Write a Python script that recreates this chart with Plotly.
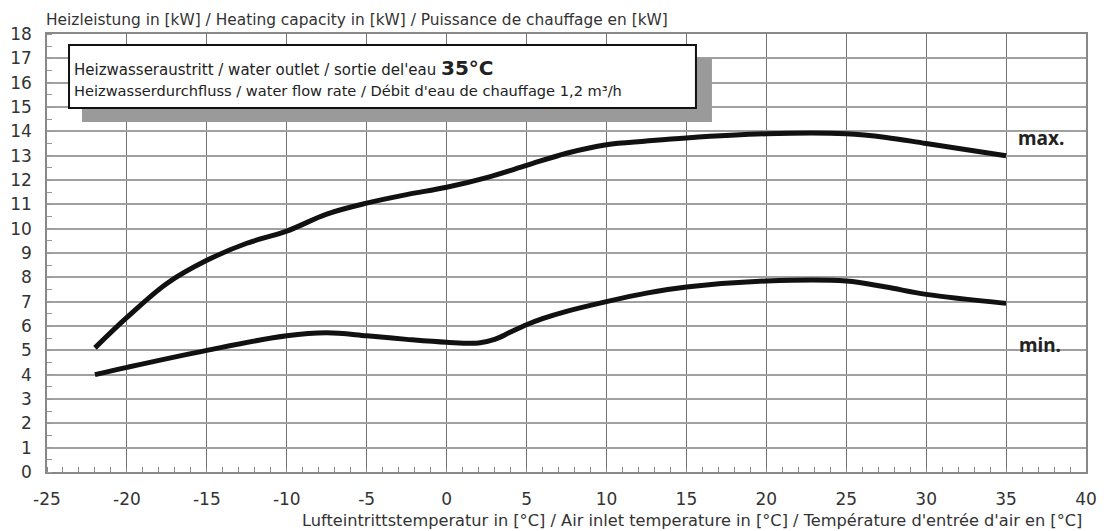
import plotly.graph_objects as go

# Data
max_x = [-22, -20, -17.5, -15, -12.5, -10, -7.5, -5, -2.5, 0, 2.5, 5, 7.5, 10, 12.5, 15, 20, 25, 27.5, 30, 35]
max_y = [5.1, 6.35, 7.75, 8.7, 9.4, 9.9, 10.6, 11.05, 11.4, 11.7, 12.1, 12.6, 13.1, 13.45, 13.6, 13.73, 13.9, 13.9, 13.75, 13.5, 13.0]

min_x = [-22, -20, -15, -10, -7.5, -5, -2.5, 0, 2, 3, 4, 5, 6, 7.5, 10, 12.5, 15, 20, 25, 27.5, 30, 35]
min_y = [4.0, 4.3, 5.0, 5.6, 5.72, 5.6, 5.45, 5.33, 5.3, 5.45, 5.75, 6.05, 6.3, 6.6, 7.0, 7.35, 7.6, 7.85, 7.85, 7.6, 7.3, 6.93]

x_ticks = [-25, -20, -15, -10, -5, 0, 5, 10, 15, 20, 25, 30, 35, 40]
y_ticks = list(range(0, 19))

title_text = "Heizleistung in [kW] / Heating capacity in [kW] / Puissance de chauffage en [kW]"
xtitle_text = "Lufteintrittstemperatur in [°C] / Air inlet temperature in [°C] / Température d'entrée d'air en [°C]"
line1 = "Heizwasseraustritt / water outlet / sortie del'eau <b><span style='font-size:20px'>35°C</span></b>"
line2 = "Heizwasserdurchfluss / water flow rate / Débit d'eau de chauffage 1,2 m³/h"

FONT = "DejaVu Sans, Liberation Sans, sans-serif"
LBL_FONT = "Noto Sans, Open Sans, sans-serif"

fig = go.Figure()
for xs, ys, name in [(max_x, max_y, "max."), (min_x, min_y, "min.")]:
    fig.add_trace(go.Scatter(
        x=xs, y=ys, mode="lines", name=name,
        line=dict(color="#111111", width=5, shape="spline", smoothing=1.0),
        showlegend=False,
    ))

# The page body has an 8px default margin, so the figure is 8px smaller than the window
fig.update_layout(
    width=1101, height=523,
    margin=dict(l=39, r=23, t=26, b=59),
    paper_bgcolor="white", plot_bgcolor="white",
    font=dict(family=FONT, color="#222222"),
    xaxis=dict(
        range=[-25, 40], tickvals=x_ticks, ticktext=[str(v) for v in x_ticks],
        showgrid=True, gridcolor="#707070", gridwidth=1.3,
        showline=True, mirror=True, linecolor="#888888", linewidth=1.5,
        zeroline=False, ticks="", ticklabelstandoff=11, automargin=False,
        tickfont=dict(size=17, color="#333333", family=FONT),
        minor=dict(dtick=1, ticks="inside", ticklen=5, tickcolor="#888888", showgrid=False),
    ),
    yaxis=dict(
        range=[0, 18], tickvals=y_ticks, ticktext=[str(v) for v in y_ticks],
        showgrid=True, gridcolor="#a0a0a0", gridwidth=1.5,
        showline=True, mirror=True, linecolor="#888888", linewidth=1.5,
        zeroline=False, ticks="", ticklabelstandoff=10, automargin=False,
        tickfont=dict(size=17, color="#333333", family=FONT),
        minor=dict(dtick=0.5, ticks="inside", ticklen=5, tickcolor="#999999", showgrid=False),
    ),
)

# Info box with shadow
fig.add_shape(type="rect", xref="paper", yref="paper", x0=0.0337, x1=0.640, y0=0.799, y1=0.945,
              fillcolor="#9a9a9a", line=dict(width=0), layer="above")
fig.add_shape(type="rect", xref="paper", yref="paper", x0=0.0212, x1=0.6246, y0=0.831, y1=0.975,
              fillcolor="white", line=dict(color="#111111", width=2), layer="above")

fig.add_annotation(xref="paper", yref="paper", x=0.024, y=0.922, xanchor="left", yanchor="middle",
                   text=line1, showarrow=False, font=dict(size=15, color="#222222", family=FONT))
fig.add_annotation(xref="paper", yref="paper", x=0.024, y=0.870, xanchor="left", yanchor="middle",
                   text=line2, showarrow=False, font=dict(size=14.6, color="#222222", family=FONT))

# Titles
fig.add_annotation(xref="paper", yref="paper", x=-0.003, y=1.032, xanchor="left", yanchor="middle",
                   text=title_text, showarrow=False, font=dict(size=15.4, color="#333333", family=FONT))
fig.add_annotation(xref="paper", yref="paper", x=0.9985, y=-0.11, xanchor="right", yanchor="middle",
                   text=xtitle_text, showarrow=False, font=dict(size=16.2, color="#333333", family=FONT))

# Curve labels
fig.add_annotation(x=37.2, y=13.73, xref="x", yref="y", text="<b>max.</b>", showarrow=False,
                   font=dict(size=19, color="#222222", family=LBL_FONT))
fig.add_annotation(x=37.1, y=5.2, xref="x", yref="y", text="<b>min.</b>", showarrow=False,
                   font=dict(size=19, color="#222222", family=LBL_FONT))

fig.write_html("out.html")
